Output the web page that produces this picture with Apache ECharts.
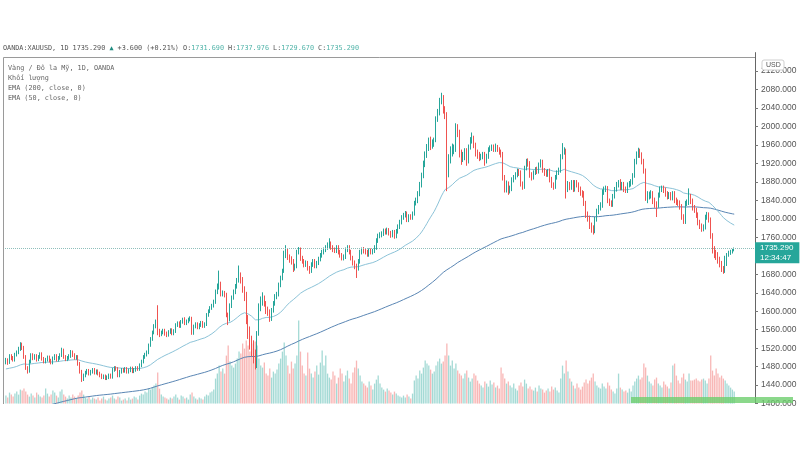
<!DOCTYPE html>
<html>
<head>
<meta charset="utf-8">
<script src="https://cdn.jsdelivr.net/npm/echarts@6.0.0/dist/echarts.min.js"></script>
<style>html,body{margin:0;padding:0;background:#fff}#c{width:800px;height:450px}</style>
</head>
<body>
<div id="c"></div>
<script>
// ---- data (OANDA:XAUUSD daily) ----
const opens = [
1489,1494,1489,1503,1499,1495,1506,1511,1518,1528,
1521,1501,1477,1471,1491,1505,1499,1503,1496,1501,
1507,1497,1491,1495,1500,1493,1489,1498,1503,1495,
1499,1505,1515,1501,1496,1499,1503,1511,1505,1499,
1501,1486,1469,1453,1461,1467,1471,1465,1469,1473,
1467,1470,1465,1461,1457,1459,1455,1457,1461,1458,
1473,1477,1475,1461,1469,1473,1471,1475,1469,1472,
1476,1470,1473,1477,1475,1483,1491,1501,1506,1511,
1526,1540,1554,1567,1575,1557,1550,1554,1558,1552,
1549,1555,1559,1552,1557,1570,1574,1568,1577,1581,
1574,1578,1582,1584,1553,1567,1572,1565,1570,1575,
1568,1572,1592,1600,1607,1612,1620,1642,1652,1657,
1637,1640,1635,1592,1582,1612,1630,1642,1654,1667,
1677,1667,1647,1632,1582,1552,1532,1522,1497,1482,
1552,1607,1620,1627,1617,1602,1597,1584,1602,1617,
1632,1637,1657,1672,1687,1723,1728,1718,1713,1708,
1693,1698,1728,1733,1715,1708,1701,1705,1693,1688,
1701,1708,1698,1705,1713,1721,1728,1733,1738,1743,
1745,1738,1733,1731,1738,1728,1721,1715,1718,1733,
1738,1728,1715,1705,1698,1693,1708,1728,1733,1731,
1728,1723,1731,1728,1731,1738,1753,1763,1765,1768,
1773,1771,1775,1769,1765,1771,1763,1773,1783,1793,
1803,1808,1811,1798,1805,1803,1811,1834,1839,1854,
1874,1894,1919,1939,1954,1969,1959,1964,1969,2016,
2031,2056,2061,2036,2026,1910,1925,1950,1950,1953,
1995,1985,1940,1930,1935,1945,1927,1955,1970,1973,
1960,1943,1937,1933,1935,1940,1925,1935,1950,1953,
1955,1950,1955,1950,1945,1940,1890,1865,1875,1860,
1865,1885,1890,1895,1903,1900,1875,1870,1910,1925,
1920,1895,1890,1900,1907,1903,1917,1923,1905,1900,
1897,1903,1885,1873,1870,1890,1900,1905,1935,1945,
1947,1864,1874,1869,1879,1864,1879,1874,1864,1856,
1854,1834,1809,1802,1784,1779,1774,1799,1816,1824,
1829,1859,1864,1866,1839,1834,1832,1849,1864,1874,
1879,1869,1874,1864,1862,1874,1876,1879,1894,1924,
1939,1944,1939,1924,1904,1846,1849,1852,1854,1839,
1832,1829,1852,1864,1866,1862,1854,1849,1852,1846,
1854,1839,1836,1834,1826,1804,1794,1834,1836,1849,
1839,1824,1819,1809,1792,1784,1779,1782,1804,1809,
1799,1763,1733,1723,1721,1711,1703,1691,1688,1716,
1722,1727,1729,1731.69
];
const closes = [
1494,1489,1503,1499,1495,1506,1511,1518,1528,1521,
1501,1477,1471,1491,1505,1499,1503,1496,1501,1507,
1497,1491,1495,1500,1493,1489,1498,1503,1495,1499,
1505,1515,1501,1496,1499,1503,1511,1505,1499,1501,
1486,1469,1453,1461,1467,1471,1465,1469,1473,1467,
1470,1465,1461,1457,1459,1455,1457,1461,1458,1473,
1477,1475,1461,1469,1473,1471,1475,1469,1472,1476,
1470,1473,1477,1475,1483,1491,1501,1506,1511,1526,
1540,1554,1567,1575,1557,1550,1554,1558,1552,1549,
1555,1559,1552,1557,1570,1574,1568,1577,1581,1574,
1578,1582,1584,1553,1567,1572,1565,1570,1575,1568,
1572,1592,1600,1607,1612,1620,1642,1652,1657,1637,
1640,1635,1592,1582,1612,1630,1642,1654,1667,1677,
1667,1647,1632,1582,1552,1532,1522,1497,1482,1552,
1607,1620,1627,1617,1602,1597,1584,1602,1617,1632,
1637,1657,1672,1687,1723,1728,1718,1713,1708,1693,
1698,1728,1733,1715,1708,1701,1705,1693,1688,1701,
1708,1698,1705,1713,1721,1728,1733,1738,1743,1745,
1738,1733,1731,1738,1728,1721,1715,1718,1733,1738,
1728,1715,1705,1698,1693,1708,1728,1733,1731,1728,
1723,1731,1728,1731,1738,1753,1763,1765,1768,1773,
1771,1775,1769,1765,1771,1763,1773,1783,1793,1803,
1808,1811,1798,1805,1803,1811,1834,1839,1854,1874,
1894,1919,1939,1954,1969,1959,1964,1969,2016,2031,
2056,2061,2036,2026,1910,1925,1950,1950,1953,1995,
1985,1940,1930,1935,1945,1927,1955,1970,1973,1960,
1943,1937,1933,1935,1940,1925,1935,1950,1953,1955,
1950,1955,1950,1945,1940,1890,1865,1875,1860,1865,
1885,1890,1895,1903,1900,1875,1870,1910,1925,1920,
1895,1890,1900,1907,1903,1917,1923,1905,1900,1897,
1903,1885,1873,1870,1890,1900,1905,1935,1945,1947,
1864,1874,1869,1879,1864,1879,1874,1864,1856,1854,
1834,1809,1802,1784,1779,1774,1799,1816,1824,1829,
1859,1864,1866,1839,1834,1832,1849,1864,1874,1879,
1869,1874,1864,1862,1874,1876,1879,1894,1924,1939,
1944,1939,1924,1904,1846,1849,1852,1854,1839,1832,
1829,1852,1864,1866,1862,1854,1849,1852,1846,1854,
1839,1836,1834,1826,1804,1794,1834,1836,1849,1839,
1824,1819,1809,1792,1784,1779,1782,1804,1809,1799,
1763,1733,1723,1721,1711,1703,1691,1688,1716,1722,
1727,1729,1731.69,1735.29
];
const highs = [
1499,1498,1507,1507,1503,1510,1515,1523,1533,1532,
1525,1505,1481,1495,1509,1509,1507,1507,1505,1511,
1511,1501,1499,1504,1504,1497,1502,1507,1507,1503,
1509,1521,1519,1505,1503,1507,1516,1515,1509,1505,
1505,1490,1473,1465,1471,1475,1475,1473,1477,1477,
1474,1474,1469,1465,1463,1463,1461,1465,1465,1477,
1481,1481,1479,1473,1477,1477,1479,1479,1476,1480,
1480,1477,1481,1481,1487,1495,1505,1510,1515,1530,
1544,1558,1572,1582,1613,1562,1558,1562,1562,1556,
1559,1563,1563,1561,1574,1578,1578,1581,1586,1587,
1582,1586,1589,1588,1571,1576,1576,1574,1579,1579,
1576,1596,1604,1611,1616,1625,1647,1660,1688,1664,
1645,1644,1640,1597,1617,1634,1647,1659,1672,1699,
1684,1674,1654,1642,1592,1567,1547,1537,1517,1557,
1617,1632,1641,1634,1622,1610,1604,1607,1622,1637,
1642,1662,1677,1692,1731,1743,1735,1723,1719,1713,
1703,1733,1739,1738,1720,1713,1710,1709,1698,1706,
1713,1713,1709,1718,1726,1733,1738,1743,1749,1758,
1751,1743,1738,1743,1743,1733,1726,1723,1738,1743,
1743,1733,1720,1710,1703,1713,1733,1738,1739,1736,
1733,1736,1736,1735,1743,1758,1768,1771,1773,1779,
1779,1781,1780,1774,1776,1776,1778,1788,1798,1808,
1813,1817,1816,1810,1810,1816,1839,1846,1860,1880,
1900,1926,1946,1962,1976,1978,1972,1976,2022,2038,
2062,2073,2068,2044,2031,1940,1957,1963,1961,2007,
2005,1993,1950,1945,1953,1953,1961,1977,1987,1980,
1965,1950,1945,1941,1945,1945,1941,1955,1959,1961,
1961,1963,1960,1955,1950,1945,1895,1883,1881,1872,
1890,1895,1901,1909,1908,1905,1881,1915,1930,1931,
1925,1901,1905,1912,1913,1922,1929,1928,1910,1906,
1908,1909,1891,1879,1895,1905,1911,1940,1964,1955,
1952,1882,1880,1884,1884,1884,1884,1879,1870,1862,
1860,1839,1816,1807,1792,1786,1804,1822,1830,1836,
1864,1870,1872,1871,1844,1840,1854,1869,1880,1884,
1886,1880,1880,1870,1879,1882,1886,1899,1930,1946,
1954,1952,1944,1930,1909,1860,1859,1862,1860,1846,
1838,1857,1870,1872,1872,1868,1860,1858,1858,1860,
1860,1846,1842,1840,1832,1810,1839,1842,1866,1854,
1844,1830,1824,1814,1798,1790,1788,1809,1815,1814,
1803,1769,1741,1733,1728,1718,1709,1698,1720,1726,
1731,1733,1735,1737.976
];
const lows = [
1485,1484,1486,1494,1491,1491,1502,1507,1514,1516,
1497,1473,1465,1467,1487,1494,1495,1491,1492,1497,
1493,1487,1487,1491,1489,1485,1485,1494,1491,1491,
1495,1501,1497,1492,1492,1495,1499,1501,1495,1495,
1482,1465,1447,1449,1457,1463,1461,1461,1465,1463,
1463,1461,1457,1453,1453,1451,1451,1453,1454,1454,
1469,1471,1457,1457,1465,1467,1467,1465,1465,1468,
1466,1466,1469,1471,1471,1479,1487,1497,1502,1507,
1523,1536,1550,1563,1548,1544,1546,1550,1547,1544,
1545,1551,1548,1548,1553,1566,1564,1564,1573,1570,
1570,1574,1578,1549,1549,1563,1561,1561,1566,1564,
1564,1568,1588,1596,1603,1608,1616,1637,1647,1632,
1632,1630,1587,1570,1578,1607,1625,1637,1649,1662,
1660,1640,1622,1572,1540,1517,1502,1487,1474,1477,
1547,1600,1612,1610,1594,1590,1577,1579,1597,1612,
1626,1632,1652,1667,1683,1715,1711,1705,1701,1685,
1688,1693,1723,1709,1703,1695,1696,1688,1681,1683,
1696,1693,1693,1700,1708,1716,1723,1728,1733,1737,
1733,1728,1726,1726,1723,1716,1710,1710,1713,1728,
1723,1710,1699,1691,1672,1688,1703,1723,1725,1723,
1718,1718,1723,1723,1726,1733,1748,1758,1760,1763,
1766,1766,1764,1759,1760,1757,1758,1768,1778,1788,
1798,1803,1793,1793,1798,1798,1807,1829,1834,1849,
1868,1888,1912,1932,1947,1949,1952,1956,1966,2010,
2024,2048,2028,2016,1860,1890,1920,1935,1940,1945,
1977,1933,1917,1923,1927,1915,1920,1950,1963,1953,
1935,1930,1925,1927,1929,1915,1920,1930,1945,1947,
1945,1945,1945,1939,1933,1883,1857,1857,1852,1855,
1860,1879,1885,1890,1893,1870,1863,1865,1905,1913,
1889,1883,1885,1895,1897,1898,1911,1900,1893,1891,
1891,1879,1867,1863,1865,1885,1895,1900,1929,1939,
1844,1858,1862,1863,1858,1859,1868,1858,1850,1846,
1828,1802,1794,1778,1770,1766,1769,1794,1810,1818,
1824,1852,1858,1834,1828,1826,1826,1844,1859,1868,
1862,1862,1858,1856,1856,1868,1870,1874,1889,1918,
1932,1932,1918,1898,1839,1834,1842,1844,1832,1824,
1804,1824,1846,1858,1856,1848,1842,1843,1840,1840,
1834,1830,1828,1820,1798,1789,1789,1828,1830,1832,
1818,1813,1802,1786,1778,1772,1773,1777,1798,1792,
1757,1725,1715,1711,1703,1695,1685,1681,1683,1698,
1718,1722,1725,1729.67
];
const volumes = [
80,60,110,90,70,100,120,90,140,130,
150,120,90,70,100,80,60,110,90,70,
60,80,150,100,70,90,130,110,80,60,
120,140,90,70,50,80,60,90,70,50,
80,110,130,90,60,50,70,40,60,50,
40,60,30,50,70,40,30,50,60,80,
50,40,70,60,30,40,50,30,60,40,
50,70,60,40,80,100,90,120,110,150,
140,160,180,200,310,150,90,70,60,50,
40,60,50,70,90,60,40,80,70,50,
60,40,90,110,70,50,40,60,50,40,
70,90,80,110,120,140,250,300,380,320,
350,300,480,580,420,380,360,400,450,520,
500,600,550,630,580,520,600,550,620,580,
450,380,360,410,300,280,350,260,320,300,
340,400,450,520,610,480,380,300,420,350,
400,480,830,520,380,300,280,510,350,300,
260,320,380,290,410,530,380,480,300,260,
240,320,280,200,260,350,300,220,280,330,
250,200,310,360,430,350,280,220,200,180,
160,220,180,140,200,240,280,200,160,140,
120,150,130,110,90,120,100,80,70,60,
80,60,90,70,50,100,230,280,250,330,
300,360,430,400,380,340,300,320,380,420,
450,400,420,480,600,480,380,430,350,400,
330,300,280,250,300,330,260,220,250,300,
280,230,200,180,160,220,200,170,230,190,
210,160,180,150,360,300,250,200,220,180,
160,200,150,130,180,210,170,240,200,150,
170,140,130,160,120,180,150,140,110,130,
150,120,170,140,160,130,110,250,380,300,
430,320,250,220,180,150,200,160,140,170,
210,240,200,230,260,300,220,180,160,150,
200,170,150,210,180,140,120,100,150,300,
160,140,120,130,110,150,120,180,220,250,
280,240,260,400,360,280,220,200,180,240,
260,200,180,160,220,190,170,150,210,380,
400,280,230,200,260,300,240,220,300,230,
230,240,250,230,220,240,250,230,200,250,
480,330,280,350,300,260,280,250,230,200,
180,160,140,120
];
const ema200Start = 1369;   // EMA(200) level at the first candle
const ema50Start = 1475;    // EMA(50) level at the first candle
const lastPrice = 1735.29;
const countdown = '12:34:47';
const priceTicks = { min: 1400, max: 2160, interval: 40 };
const emptyRightBars = 11;
const categories = Array.from({length: closes.length + emptyRightBars}, (_, i) => String(i));

function ema(values, period, start) {
  const k = 2 / (period + 1);
  const out = [];
  let e = start;
  values.forEach((v, i) => { if (i > 0) e = e + k * (v - e); out.push(+e.toFixed(2)); });
  return out;
}
const ema200 = ema(closes, 200, ema200Start);
const ema50 = ema(closes, 50, ema50Start);

const UP = '#26a69a', DOWN = '#ef5350';
const candleData = closes.map((c, i) => [opens[i], c, lows[i], highs[i]]);
const volData = volumes.map((v, i) => ({
  value: v,
  itemStyle: { color: closes[i] >= opens[i] ? 'rgba(38,166,154,0.42)' : 'rgba(239,83,80,0.42)' }
}));

const mono = 'DejaVu Sans Mono, Liberation Mono, monospace';
const sans = 'Liberation Sans, Arial, sans-serif';
const fs = 6.8;
const legendLine = (t, top) => ({
  text: t, left: 8, top: top, padding: 0,
  textStyle: { fontFamily: mono, fontSize: fs, color: '#666', fontWeight: 'normal' }
});

const chart = echarts.init(document.getElementById('c'), null, { renderer: 'canvas' });
chart.setOption({
  animation: false,
  backgroundColor: '#ffffff',
  title: [
    {
      left: 3, top: 45, padding: 0,
      text: '{a|OANDA:XAUUSD, 1D 1735.290 }{u|▲}{a| +3.600 (+0.21%) O:}{v|1731.690}{a| H:}{v|1737.976}{a| L:}{v|1729.670}{a| C:}{v|1735.290}',
      textStyle: {
        fontWeight: 'normal',
        rich: {
          a: { fontFamily: mono, fontSize: fs, color: '#555' },
          u: { fontFamily: mono, fontSize: fs, color: '#1e8c80' },
          v: { fontFamily: mono, fontSize: fs, color: '#4fb3a8' }
        }
      }
    },
    legendLine('Vàng / Đô la Mỹ, 1D, OANDA', 65),
    legendLine('Khối lượng', 75),
    legendLine('EMA (200, close, 0)', 85),
    legendLine('EMA (50, close, 0)', 95)
  ],
  grid: [
    { left: 5, right: 45, top: 52.6, height: 351, containLabel: false, outerBoundsMode: 'none' },
    { left: 5, right: 45, top: 303.6, height: 100, containLabel: false, outerBoundsMode: 'none' }
  ],
  xAxis: [
    { type: 'category', data: categories, gridIndex: 0, boundaryGap: true, show: false },
    { type: 'category', data: categories, gridIndex: 1, boundaryGap: true, show: false }
  ],
  yAxis: [
    {
      type: 'value', gridIndex: 0, position: 'right', scale: true,
      min: priceTicks.min, max: priceTicks.max, interval: priceTicks.interval,
      axisLine: { show: true, lineStyle: { color: '#666', width: 1 } },
      axisTick: { show: true, inside: false, length: 3, lineStyle: { color: '#777' } },
      axisLabel: {
        show: true, margin: 6, color: '#555', fontSize: 8.5, fontFamily: sans,
        formatter: v => v.toFixed(3), showMinLabel: true, showMaxLabel: false
      },
      splitLine: { show: false }
    },
    { type: 'value', gridIndex: 1, min: 0, max: 1000, show: false, splitLine: { show: false } }
  ],
  series: [
    {
      name: 'Khối lượng', type: 'bar', xAxisIndex: 1, yAxisIndex: 1,
      data: volData, barWidth: '72%', z: 1, silent: true
    },
    {
      name: 'EMA200', type: 'line', xAxisIndex: 0, yAxisIndex: 0, data: ema200,
      showSymbol: false, symbol: 'none', z: 3, silent: true,
      lineStyle: { color: '#5a86b4', width: 1 }
    },
    {
      name: 'EMA50', type: 'line', xAxisIndex: 0, yAxisIndex: 0, data: ema50,
      showSymbol: false, symbol: 'none', z: 3, silent: true,
      lineStyle: { color: '#8cc3d8', width: 1 }
    },
    {
      name: 'XAUUSD', type: 'candlestick', xAxisIndex: 0, yAxisIndex: 0,
      data: candleData, barWidth: '62%', z: 4, silent: true,
      itemStyle: { color: UP, color0: DOWN, borderColor: UP, borderColor0: DOWN, borderWidth: 1 },
      markLine: {
        silent: true, symbol: ['none', 'none'], animation: false,
        lineStyle: { color: '#8fbfbb', type: 'dotted', width: 1 },
        label: {
          show: true, position: 'end', distance: 0, offset: [0, 4],
          formatter: () => lastPrice.toFixed(3) + '\n' + countdown,
          backgroundColor: UP, color: '#ffffff', fontSize: 8, lineHeight: 9.5,
          fontFamily: sans, padding: [1, 6, 1, 5]
        },
        data: [{ yAxis: lastPrice }]
      }
    }
  ],
  graphic: [
    {
      type: 'polyline', silent: true, z: 10,
      shape: { points: [[3.5, 404], [3.5, 57.5], [755, 57.5]] },
      style: { stroke: '#9a9a9a', lineWidth: 1, fill: null }
    },
    {
      type: 'rect', silent: true, z: 10,
      shape: { x: 631, y: 397, width: 162, height: 6 },
      style: { fill: 'rgba(110,206,110,0.8)' }
    },
    {
      type: 'rect', silent: true, z: 11,
      shape: { x: 762, y: 60, width: 22, height: 10, r: 2 },
      style: { fill: '#ffffff', stroke: '#cfcfcf', lineWidth: 1 }
    },
    {
      type: 'text', silent: true, z: 12, left: 766, top: 61.5,
      style: { text: 'USD', fill: '#555', fontSize: 7, fontFamily: sans }
    }
  ]
});
</script>
</body>
</html>
